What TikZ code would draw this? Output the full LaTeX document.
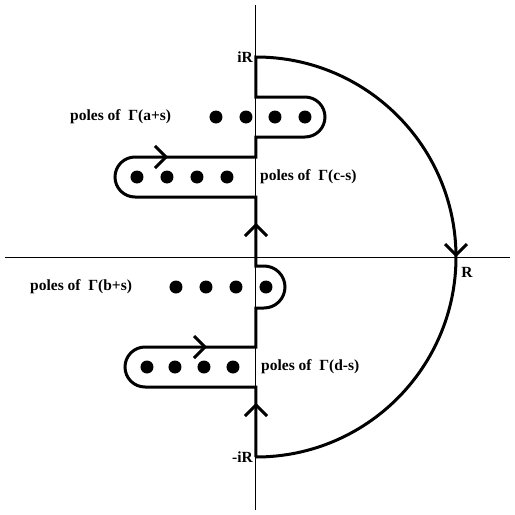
\documentclass[tikz,border=0pt]{standalone}
\usepackage{fontspec}
\setmainfont{Liberation Serif}
\usepackage{tikz}
\usetikzlibrary{positioning,calc}

\tikzset{
  contour/.style={line width=3pt,line join=miter},
  axis/.style={line width=1pt},
  pole/.style={fill=black},
  lbl/.style={inner sep=0pt,font=\bfseries\fontsize{15.5}{18}\selectfont},
  chev/.pic={\draw[contour] (-11,11) -- (0,0) -- (-11,-11);}
}

\begin{document}
\begin{tikzpicture}[x=1pt,y=1pt]
\useasboundingbox (-256,-258) rectangle (259,257);
% axes
\draw[axis] (-251,0) -- (254,0);
\draw[axis] (0,252) -- (0,-253);
% contour
\draw[contour] (0,-200) -- (0,-130) -- (-111,-130)
  arc[start angle=270,end angle=90,radius=20] -- (0,-90) -- (0,-51) -- (8,-51)
  arc[start angle=-90,end angle=90,radius=21] -- (0,-9) -- (0,60) -- (-121,60)
  arc[start angle=270,end angle=90,radius=20] -- (0,100) -- (0,120) -- (49,120)
  arc[start angle=-90,end angle=90,radius=20] -- (0,160) -- (0,200)
  arc[start angle=90,end angle=-90,radius=200];
% arrows on the contour
\pic[rotate=90] at (0,-148) {chev};
\pic[rotate=90] at (0,32) {chev};
\pic at (-51,-90) {chev};
\pic at (-90,100) {chev};
\pic[rotate=-90] at (200,2) {chev};
% poles
\foreach \x in {-40,-10,19,49} \fill[pole] (\x,140) circle (6.5);
\foreach \x in {-119,-89,-59,-29} \fill[pole] (\x,80) circle (6.5);
\foreach \x in {-80,-50,-20,10} \fill[pole] (\x,-30) circle (6.5);
\foreach \x in {-109,-81,-52,-23} \fill[pole] (\x,-110) circle (6.5);
% labels
\node[lbl,anchor=west] (as) at (-186,140) {poles of\ \ Γ(a+s)};
\node[lbl,anchor=west] (cs) at (4,80) {poles of\ \ Γ(c-s)};
\node[lbl,anchor=west] (bs) at (-226,-30) {poles of\ \ Γ(b+s)};
\node[lbl,anchor=west] (ds) at (5,-110) {poles of\ \ Γ(d-s)};
\node[lbl,anchor=east] (iR) at (-3,200) {iR};
\node[lbl,anchor=east] (miR) at (-3,-200) {-iR};
\node[lbl] (R) at (211,-15) {R};
\end{tikzpicture}
\end{document}
